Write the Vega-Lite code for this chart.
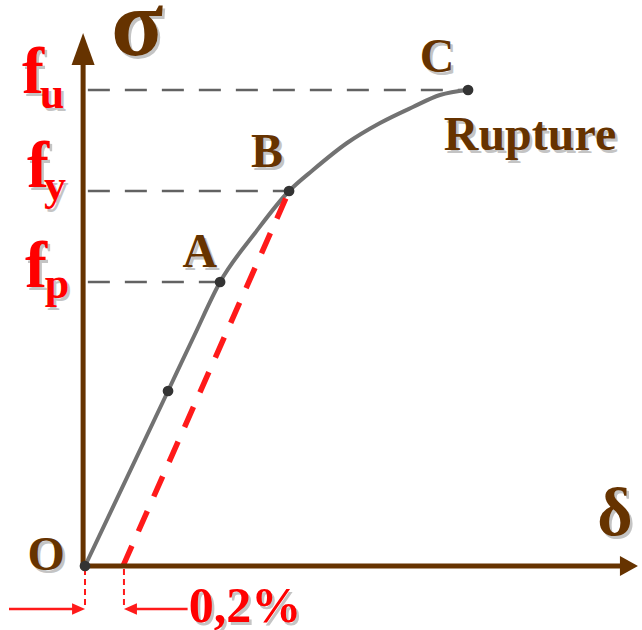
{
  "$schema": "https://vega.github.io/schema/vega-lite/v6.json",
  "width": 642,
  "height": 630,
  "autosize": {"type": "none"},
  "padding": 0,
  "background": "white",
  "config": {"view": {"stroke": null}},
  "datasets": {
    "curve": [
      {"delta": 0, "sigma": 0},
      {"delta": 0.437, "sigma": 175},
      {"delta": 0.574, "sigma": 230},
      {"delta": 0.711, "sigma": 284},
      {"delta": 0.895, "sigma": 333},
      {"delta": 1.074, "sigma": 375},
      {"delta": 1.2, "sigma": 396},
      {"delta": 1.379, "sigma": 423},
      {"delta": 1.553, "sigma": 443},
      {"delta": 1.726, "sigma": 459},
      {"delta": 1.868, "sigma": 471},
      {"delta": 2.016, "sigma": 476}
    ],
    "nodes": [
      {"name": "O", "delta": 0, "sigma": 0},
      {"name": "", "delta": 0.437, "sigma": 175},
      {"name": "A", "delta": 0.711, "sigma": 284},
      {"name": "B", "delta": 1.074, "sigma": 375},
      {"name": "C", "delta": 2.016, "sigma": 476}
    ],
    "levels": [
      {"level": "fu", "sigma": 476, "delta": 0.015, "delta2": 2.0},
      {"level": "fy", "sigma": 375, "delta": 0.015, "delta2": 1.074},
      {"level": "fp", "sigma": 284, "delta": 0.015, "delta2": 0.711}
    ],
    "labels": [
      {"text": "σ", "delta": 0.274, "sigma": 511, "kind": "stress"},
      {"text": "δ", "delta": 2.789, "sigma": 31, "kind": "strain"},
      {"text": "O", "delta": -0.205, "sigma": -4, "kind": "point"},
      {"text": "A", "delta": 0.605, "sigma": 299, "kind": "point"},
      {"text": "B", "delta": 0.958, "sigma": 399, "kind": "point"},
      {"text": "C", "delta": 1.853, "sigma": 494, "kind": "point"},
      {"text": "Rupture", "delta": 2.342, "sigma": 416, "kind": "point"},
      {"text": "f", "delta": -0.274, "sigma": 473, "kind": "limit"},
      {"text": "u", "delta": -0.174, "sigma": 458, "kind": "sub"},
      {"text": "f", "delta": -0.247, "sigma": 379, "kind": "limit"},
      {"text": "y", "delta": -0.158, "sigma": 366, "kind": "sub"},
      {"text": "f", "delta": -0.258, "sigma": 279, "kind": "limit"},
      {"text": "p", "delta": -0.147, "sigma": 268, "kind": "sub"},
      {"text": "0,2%", "delta": 0.842, "sigma": -56, "kind": "offset"}
    ]
  },
  "encoding": {
    "x": {"field": "delta", "type": "quantitative", "scale": {"domain": [-0.4474, 2.9316], "nice": false, "zero": false}, "axis": null},
    "y": {"field": "sigma", "type": "quantitative", "scale": {"domain": [-64, 566], "nice": false, "zero": false}, "axis": null}
  },
  "layer": [
    {
      "data": {"name": "levels"},
      "mark": {"type": "rule", "color": "#626262", "strokeWidth": 2.5, "strokeDash": [22, 15]},
      "encoding": {"x2": {"field": "delta2"}}
    },
    {
      "data": {"values": [{"delta": 0, "sigma": -3, "sigma2": -43}, {"delta": 0.205, "sigma": -3, "sigma2": -43}]},
      "mark": {"type": "rule", "color": "#ff1a1a", "strokeWidth": 2, "strokeDash": [6, 4]},
      "encoding": {"y2": {"field": "sigma2"}}
    },
    {
      "data": {"values": [{"delta": -0.4, "delta2": -0.03, "sigma": -43}, {"delta": 0.24, "delta2": 0.54, "sigma": -43}]},
      "mark": {"type": "rule", "color": "#ff1a1a", "strokeWidth": 2.5},
      "encoding": {"x2": {"field": "delta2"}}
    },
    {
      "data": {"values": [{"delta": -0.034, "sigma": -43}]},
      "mark": {"type": "point", "shape": "M-1,-0.9L1,0L-1,0.9Z", "filled": true, "color": "#ff1a1a", "opacity": 1, "size": 169}
    },
    {
      "data": {"values": [{"delta": 0.239, "sigma": -43}]},
      "mark": {"type": "point", "shape": "M1,-0.9L-1,0L1,0.9Z", "filled": true, "color": "#ff1a1a", "opacity": 1, "size": 169}
    },
    {
      "data": {"name": "curve"},
      "mark": {"type": "line", "color": "#727272", "strokeWidth": 4, "interpolate": "monotone"}
    },
    {
      "data": {"values": [{"delta": 0.2, "sigma": 0}, {"delta": 1.074, "sigma": 375}]},
      "mark": {"type": "line", "color": "#ff1a1a", "strokeWidth": 5.5, "strokeDash": [22, 16]}
    },
    {
      "data": {"values": [{"delta": -0.01, "sigma": -2, "sigma2": 505}]},
      "mark": {"type": "rule", "color": "#663300", "strokeWidth": 5},
      "encoding": {"y2": {"field": "sigma2"}}
    },
    {
      "data": {"values": [{"delta": -0.023, "delta2": 2.826, "sigma": 0}]},
      "mark": {"type": "rule", "color": "#663300", "strokeWidth": 5},
      "encoding": {"x2": {"field": "delta2"}}
    },
    {
      "data": {"values": [{"delta": -0.01, "sigma": 517}]},
      "mark": {"type": "point", "shape": "M-0.72,1L0,-1L0.72,1Z", "filled": true, "color": "#663300", "opacity": 1, "size": 1024}
    },
    {
      "data": {"values": [{"delta": 2.863, "sigma": 0}]},
      "mark": {"type": "point", "shape": "M-1,-1.1L1,0L-1,1.1Z", "filled": true, "color": "#663300", "opacity": 1, "size": 324}
    },
    {
      "data": {"name": "nodes"},
      "mark": {"type": "circle", "color": "#333333", "opacity": 1, "size": 115}
    },
    {
      "data": {"name": "labels"},
      "mark": {"type": "text", "font": "Liberation Serif", "fontWeight": "bold", "align": "center", "baseline": "alphabetic", "dx": 2.5, "dy": 2.5, "color": "#c4c4c4"},
      "encoding": {
        "text": {"field": "text"},
        "size": {"field": "kind", "type": "ordinal", "scale": {"type": "ordinal", "domain": ["stress", "strain", "point", "limit", "sub", "offset"], "range": [96, 68, 48, 66, 44, 50]}, "legend": null}
      }
    },
    {
      "data": {"name": "labels"},
      "mark": {"type": "text", "font": "Liberation Serif", "fontWeight": "bold", "align": "center", "baseline": "alphabetic"},
      "encoding": {
        "text": {"field": "text"},
        "size": {"field": "kind", "type": "ordinal", "scale": {"type": "ordinal", "domain": ["stress", "strain", "point", "limit", "sub", "offset"], "range": [96, 68, 48, 66, 44, 50]}, "legend": null},
        "color": {"field": "kind", "type": "nominal", "scale": {"domain": ["stress", "strain", "point", "limit", "sub", "offset"], "range": ["#663300", "#663300", "#663300", "#ff0000", "#ff0000", "#ff0000"]}, "legend": null}
      }
    }
  ]
}
